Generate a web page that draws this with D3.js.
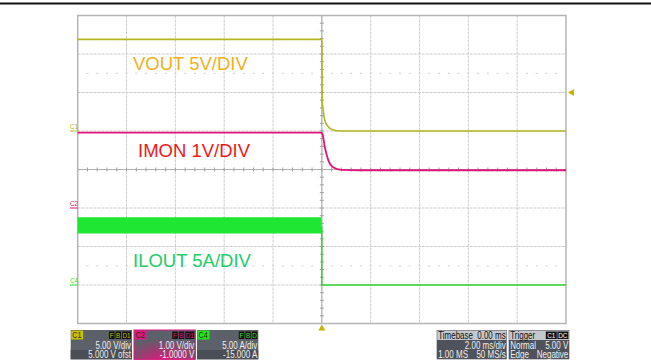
<!DOCTYPE html>
<html>
<head>
<meta charset="utf-8">
<script src="https://cdn.jsdelivr.net/npm/d3@7"></script>
<style>
  html, body { margin: 0; padding: 0; background: #fff; }
  svg { display: block; font-family: "Liberation Sans", Arial, sans-serif; }
</style>
</head>
<body>
<svg id="scope" width="651" height="362"></svg>
<script>
// ---- Acquired traces (time in ms, trigger at 0) ----
// C1: output voltage (V)
const voutTime  = [-10, -0.01, 0.0, 0.012, 0.053, 0.12, 0.26, 0.46, 0.74, 10];
const voutValue = [11.9, 11.9, 11.6, 4.0, 2.7, 1.4, 0.56, 0.13, 0.0, 0.0];

// C2: current monitor (V)
const imonTime  = [-10, -0.01, 0.03, 0.12, 0.26, 0.46, 0.81, 1.5, 10];
const imonValue = [1.96, 1.96, 1.92, 1.59, 1.25, 1.06, 0.99, 0.98, 0.98];

// C4: inductor current envelope (A) while switching, then off
const iloutTime = [-10, -5, -0.012];
const iloutHigh = [8.8, 8.8, 8.8];
const iloutLow  = [6.7, 6.7, 6.7];
const iloutOffTime  = [0, 0, 10];
const iloutOffValue = [7.6, 0, 0];

// Trace annotations
const traceLabels = ["VOUT 5V/DIV", "IMON 1V/DIV", "ILOUT 5A/DIV"];

// Vertical setup per channel: [bottom, top] of 8 divisions
const c1Range = [-25, 15];   // 5 V/div
const c2Range = [-3, 5];     // 1 V/div
const c4Range = [-5, 35];    // 5 A/div
const timeRange = [-10, 10]; // 2 ms/div

// Readout boxes
const chanBoxes = [
  { name: "C1", tags: ["F", "B", "D1"], lines: ["5.00 V/div", "5.000 V ofst"] },
  { name: "C2", tags: ["F", "B", "D1"], lines: ["1.00 V/div", "-1.0000 V"] },
  { name: "C4", tags: ["F", "B", "D"],  lines: ["5.00 A/div", "-15.000 A"] }
];
const timebaseBox = { title: "Timebase", value: "0.00 ms", lines: [["", "2.00 ms/div"], ["1.00 MS", "50 MS/s"]] };
const triggerBox  = { title: "Trigger", tags: ["C1", "DC"], lines: [["Normal", "5.00 V"], ["Edge", "Negative"]] };

// ---- Layout ----
const svg = d3.select("#scope");
const G = { left: 77.7, right: 566, top: 15.5, bottom: 323.5 };
const col = {
  c1: "#b5b520", c2: "#e0167c", c4: "#1ee632",
  c1Text: "#f0b020", c2Text: "#f01818", c4Text: "#22cc66"
};

const x = d3.scaleLinear().domain(timeRange).range([G.left, G.right]);
const y1 = d3.scaleLinear().domain(c1Range).range([G.bottom, G.top]);
const y2 = d3.scaleLinear().domain(c2Range).range([G.bottom, G.top]);
const y4 = d3.scaleLinear().domain(c4Range).range([G.bottom, G.top]);

// top rule
svg.append("rect").attr("x", 0).attr("y", 2.5).attr("width", 651).attr("height", 2).attr("fill", "#111");

// ---- Graticule ----
const grid = svg.append("g");
const xDivs = d3.range(-10, 10.01, 2);
const yDivs = d3.range(c1Range[0], c1Range[1] + 0.01, 5);

grid.selectAll("line.v").data(xDivs.slice(1, -1)).join("line")
  .attr("x1", d => x(d)).attr("x2", d => x(d))
  .attr("y1", G.top).attr("y2", G.bottom)
  .attr("stroke", "#cdcdcd").attr("stroke-width", 1).attr("stroke-dasharray", "3,1");
grid.selectAll("line.h").data(yDivs.slice(1, -1)).join("line")
  .attr("x1", G.left).attr("x2", G.right)
  .attr("y1", d => y1(d)).attr("y2", d => y1(d))
  .attr("stroke", "#cdcdcd").attr("stroke-width", 1).attr("stroke-dasharray", "3,1");

// dotted sub-division rows
const subX = d3.range(-10, 10.01, 0.4);
[-17.5, 7.5].forEach(v => {
  grid.selectAll(null).data(subX.slice(1, -1)).join("rect")
    .attr("x", d => x(d) - 1).attr("y", y1(v) - 0.5).attr("width", 2).attr("height", 1.2)
    .attr("fill", "#d6d6d6");
});

// centre axes with minor ticks
grid.append("line").attr("x1", x(0)).attr("x2", x(0)).attr("y1", G.top).attr("y2", G.bottom)
  .attr("stroke", "#a8a8a8").attr("stroke-width", 1);
const subY = d3.range(c1Range[0], c1Range[1] + 0.01, 1);
grid.selectAll("line.ty").data(subY).join("line")
  .attr("x1", x(0) - 2).attr("x2", x(0) + 2)
  .attr("y1", d => y1(d)).attr("y2", d => y1(d))
  .attr("stroke", "#a0a0a0").attr("stroke-width", 1);
grid.append("line").attr("x1", G.left).attr("x2", G.right).attr("y1", y1(-5)).attr("y2", y1(-5))
  .attr("stroke", "#b0b0b0").attr("stroke-width", 1);
grid.selectAll("line.tx").data(subX).join("line")
  .attr("x1", d => x(d)).attr("x2", d => x(d))
  .attr("y1", y1(-5) - 2).attr("y2", y1(-5) + 2)
  .attr("stroke", "#a0a0a0").attr("stroke-width", 1);

grid.append("rect").attr("x", G.left).attr("y", G.top)
  .attr("width", G.right - G.left).attr("height", G.bottom - G.top)
  .attr("fill", "none").attr("stroke", "#b4b4b4").attr("stroke-width", 1.5);

// ---- Traces ----
const traces = svg.append("g");

// ILOUT switching envelope
const bandData = iloutTime.map((t, i) => ({ t, hi: iloutHigh[i], lo: iloutLow[i] }));
traces.append("path").datum(bandData)
  .attr("d", d3.area().x(d => x(d.t)).y0(d => y4(d.lo)).y1(d => y4(d.hi)))
  .attr("fill", col.c4);
traces.append("path").datum(iloutOffTime.map((t, i) => [t, iloutOffValue[i]]))
  .attr("d", d3.line().x(d => x(d[0])).y(d => y4(d[1])))
  .attr("fill", "none").attr("stroke", "#2ed42e").attr("stroke-width", 1.4);

// IMON
traces.append("path").datum(imonTime.map((t, i) => [t, imonValue[i]]))
  .attr("d", d3.line().curve(d3.curveMonotoneX).x(d => x(d[0])).y(d => y2(d[1])))
  .attr("fill", "none").attr("stroke", col.c2).attr("stroke-width", 1.8);

// VOUT
traces.append("path").datum(voutTime.map((t, i) => [t, voutValue[i]]))
  .attr("d", d3.line().curve(d3.curveMonotoneX).x(d => x(d[0])).y(d => y1(d[1])))
  .attr("fill", "none").attr("stroke", col.c1).attr("stroke-width", 1.6);

// ---- Annotations ----
const ann = svg.append("g").attr("font-size", 18.5);
ann.append("text").attr("x", 133).attr("y", 70).attr("fill", col.c1Text).text(traceLabels[0]);
ann.append("text").attr("x", 138).attr("y", 157.3).attr("fill", col.c2Text).text(traceLabels[1]);
ann.append("text").attr("x", 133).attr("y", 267.3).attr("fill", col.c4Text).text(traceLabels[2]);

// Condensed text helper for the small readouts
function ctext(g, tx, ty, str, opts = {}) {
  return g.append("text")
    .attr("transform", `translate(${tx},${ty}) scale(${opts.sx || 0.8},1)`)
    .attr("text-anchor", opts.anchor || "start")
    .attr("font-size", opts.size || 10)
    .attr("fill", opts.fill || "#eee")
    .text(str);
}

// channel ground markers
const markers = [
  { name: "C1", yv: y1(0), c: col.c1 },
  { name: "C2", yv: y2(0), c: col.c2 },
  { name: "C4", yv: y4(0), c: col.c4 }
];
markers.forEach(m => {
  ctext(svg, 70, m.yv - 2, m.name, { size: 7, fill: m.c, sx: 0.9 });
  svg.append("line").attr("x1", 70).attr("x2", G.left).attr("y1", m.yv).attr("y2", m.yv)
    .attr("stroke", m.c).attr("stroke-width", 1);
});

// trigger position and level markers
svg.append("path").attr("d", `M${x(0)},${G.bottom + 1} l-3.5,6 h7 z`).attr("fill", "#c8b400");
svg.append("path").attr("d", `M${G.right + 2},${y1(5)} l6,-3.5 v7 z`).attr("fill", "#c8b400");

// ---- Readout boxes ----
const boxes = svg.append("g");
const chanColors = ["#c8c000", "#e0167c", "#22e622"];
const boxX = [70.7, 134, 197];
const defs = svg.append("defs");
const grad = defs.append("radialGradient").attr("id", "c2grad").attr("cx", "0.5").attr("cy", "1.05").attr("r", "0.75");
grad.append("stop").attr("offset", "0").attr("stop-color", "#e0167c");
grad.append("stop").attr("offset", "1").attr("stop-color", "#5c6068");

chanBoxes.forEach((b, i) => {
  const g = boxes.append("g").attr("transform", `translate(${boxX[i]},330)`);
  const w = 61.3;
  g.append("rect").attr("width", w).attr("height", 29.3).attr("fill", "#5c6068");
  g.append("rect").attr("y", 20).attr("width", w).attr("height", 9.3).attr("fill", "#4a4e55");
  if (i === 1) {
    g.append("rect").attr("width", w).attr("height", 29.3).attr("fill", "url(#c2grad)");
    g.append("rect").attr("width", w).attr("height", 29.3).attr("fill", "none").attr("stroke", "#e0167c").attr("stroke-width", 1);
  }
  g.append("rect").attr("x", 0.5).attr("y", 0.5).attr("width", 12).attr("height", 9).attr("fill", chanColors[i]);
  ctext(g, 1.5, 8.3, b.name, { size: 9, fill: "#303000" });
  let tx = w - 1;
  b.tags.slice().reverse().forEach(t => {
    const tw = t.length > 1 ? 9 : 5.5;
    tx -= tw;
    g.append("rect").attr("x", tx).attr("y", 1.5).attr("width", tw).attr("height", 7.5).attr("fill", "#111");
    ctext(g, tx + tw / 2, 8.2, t, { size: 8, fill: chanColors[i], anchor: "middle" });
    tx -= 1;
  });
  b.lines.forEach((l, j) => {
    ctext(g, w - 1, 18.5 + j * 9.6, l, { anchor: "end" });
  });
});

function infoBox(x0, w, title, right, tags, lines) {
  const g = boxes.append("g").attr("transform", `translate(${x0},330)`);
  g.append("rect").attr("width", w).attr("height", 29.3).attr("fill", "#4e525a");
  g.append("rect").attr("x", 0.5).attr("y", 0.5).attr("width", w - 1).attr("height", 9.5).attr("fill", "#c4c8cc");
  ctext(g, 1.5, 8.6, title, { fill: "#111" });
  if (right) ctext(g, w - 1, 8.6, right, { fill: "#111", anchor: "end" });
  if (tags) {
    let tx = w - 1;
    tags.slice().reverse().forEach(t => {
      const tw = 11;
      tx -= tw;
      g.append("rect").attr("x", tx).attr("y", 1.5).attr("width", tw).attr("height", 7.5).attr("fill", "#111");
      ctext(g, tx + tw / 2, 8.3, t, { size: 8, fill: "#fff", anchor: "middle" });
      tx -= 0.5;
    });
  }
  lines.forEach((l, j) => {
    if (l[0]) ctext(g, 1.5, 18.5 + j * 9.6, l[0]);
    ctext(g, w - 1, 18.5 + j * 9.6, l[1], { anchor: "end" });
  });
}
infoBox(436.7, 70, timebaseBox.title, timebaseBox.value, null, timebaseBox.lines);
infoBox(508.7, 60.6, triggerBox.title, null, triggerBox.tags, triggerBox.lines);
</script>
</body>
</html>
